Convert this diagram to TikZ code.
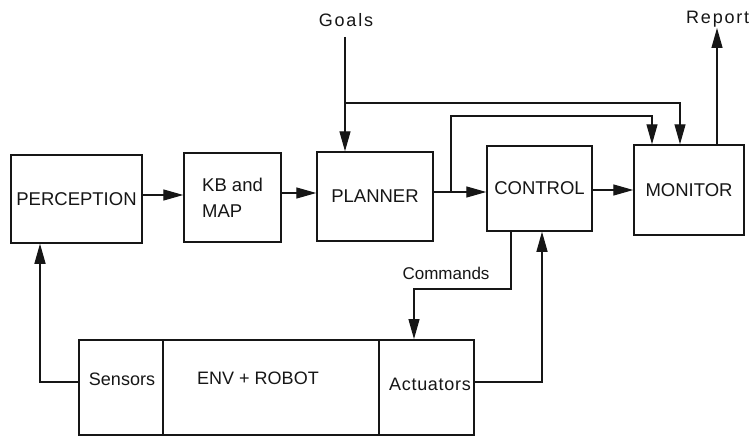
\documentclass[tikz,border=0pt]{standalone}
\usepackage{fontspec}
\setmainfont{Liberation Sans}
\usetikzlibrary{arrows.meta}
\definecolor{ink}{HTML}{161616}
\tikzset{
  blk/.style={draw=ink, line width=1.5pt, inner sep=0pt, text=ink,
    font=\fontsize{18.5}{26}\selectfont},
  lbl/.style={inner sep=0pt, text=ink, font=\fontsize{18}{22}\selectfont},
  wide/.style={font=\fontsize{18}{22}\selectfont\addfontfeatures{LetterSpace=10}},
  wire/.style={draw=ink, line width=1.3pt},
  flow/.style={wire, -{Triangle[length=20pt,width=11pt]}},
}
\begin{document}
\begin{tikzpicture}[x=1pt,y=-1pt]
\useasboundingbox (0,0) rectangle (749,436);
\clip (0,0) rectangle (749,436);
\fill[white] (0,0) rectangle (749,436);

% upper chain of blocks
\node[blk, minimum width=131, minimum height=88] (perc) at (76.5,199) {PERCEPTION};
\node[blk, minimum width=97, minimum height=89, align=left] (kb) at (232.5,197.5) {KB and\\MAP};
\node[blk, minimum width=116, minimum height=89] (plan) at (375,196.5) {PLANNER};
\node[blk, minimum width=105, minimum height=85] (ctrl) at (539.5,188.5) {CONTROL};
\node[blk, minimum width=110, minimum height=90] (mon) at (689,190) {MONITOR};

% environment and robot
\node[blk, minimum width=84, minimum height=95, anchor=north west] (sensors) at (78,339) {};
\node[blk, minimum width=216, minimum height=95, anchor=north west] (env) at (162,339) {};
\node[blk, minimum width=95, minimum height=95, anchor=north west] (act) at (378,339) {};
\node[lbl] (sensorstxt) at (122,379) {Sensors};
\node[lbl] (envtxt) at (258,378) {ENV + ROBOT};
\node[lbl, font=\fontsize{18}{22}\selectfont\addfontfeatures{LetterSpace=4}] (acttxt) at (430,384) {Actuators};

% free labels
\node[lbl, wide] (goalstxt) at (346,20) {Goals};
\node[lbl, wide, anchor=west] (reporttxt) at (686,19) {Report};
\node[lbl, font=\fontsize{17}{22}\selectfont] (cmdtxt) at (446,273) {Commands};

% helper points for the wiring
\coordinate (r1) at (0,195);
\coordinate (r2) at (0,193);
\coordinate (r3) at (0,192);
\coordinate (r4) at (0,190);
\coordinate (goals) at (345,37);
\coordinate (split) at (345,103);
\coordinate (k1) at (680,103);
\coordinate (tap) at (451,192);
\coordinate (tapup) at (451,116);
\coordinate (k2) at (652,116);
\coordinate (rep) at (717,28);
\coordinate (c1) at (511,289);
\coordinate (c2) at (414,289);
\coordinate (f1) at (542,382);
\coordinate (s1) at (40,382);

% main flow
\draw[flow] (perc.east |- r1) -- (kb.west |- r1);
\draw[flow] (kb.east |- r2) -- (plan.west |- r2);
\draw[flow] (plan.east |- r3) -- (ctrl.west |- r3);
\draw[flow] (ctrl.east |- r4) -- (mon.west |- r4);

% goals into the planner, also passed to the monitor
\draw[flow] (goals) -- (goals |- plan.north);
\draw[flow] (split) -- (k1) -- (k1 |- mon.north);
\draw[flow] (tap) -- (tapup) -- (k2) -- (k2 |- mon.north);

% report out of the monitor
\draw[flow] (rep |- mon.north) -- (rep);

% commands to the actuators and feedback to control
\draw[flow] (c1 |- ctrl.south) -- (c1) -- (c2) -- (c2 |- act.north);
\draw[flow] (act.east |- f1) -- (f1) -- (f1 |- ctrl.south);

% sensing back to perception
\draw[flow] (sensors.west |- s1) -- (s1) -- (s1 |- perc.south);
\end{tikzpicture}
\end{document}
